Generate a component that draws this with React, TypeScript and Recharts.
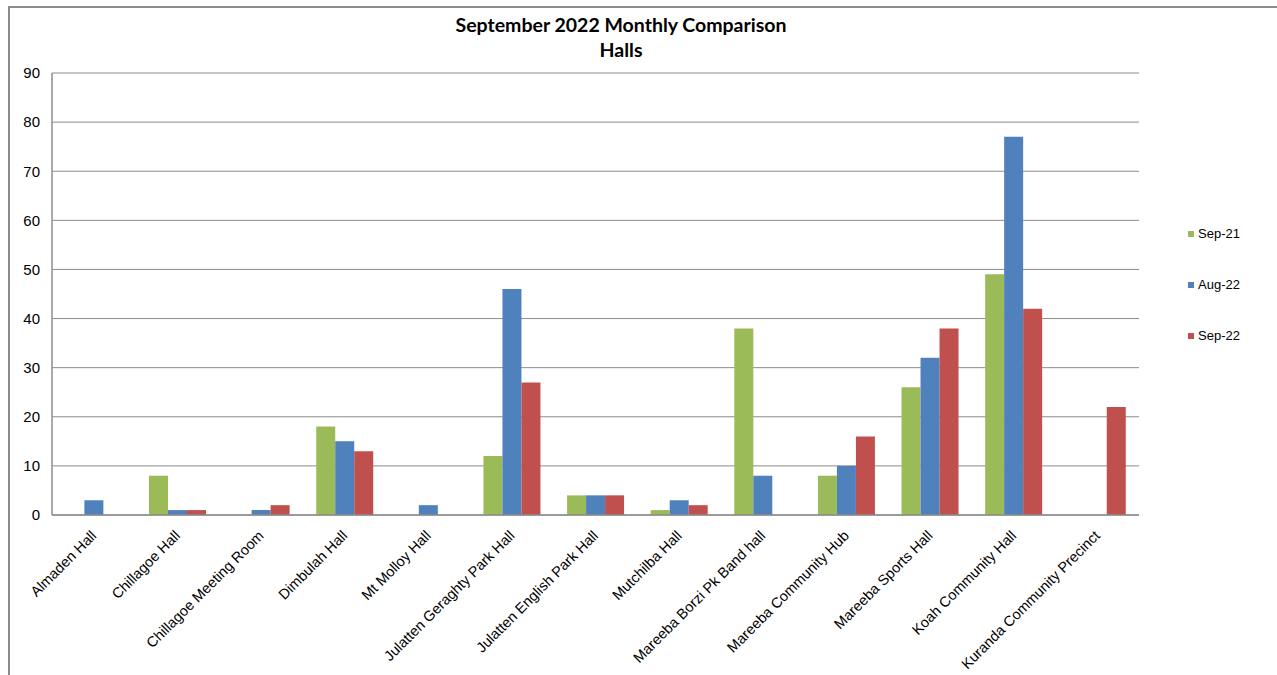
import React from "react";
import { BarChart, Bar, XAxis, YAxis, CartesianGrid } from "recharts";

const halls = [
  "Almaden Hall",
  "Chillagoe Hall",
  "Chillagoe Meeting Room",
  "Dimbulah Hall",
  "Mt Molloy Hall",
  "Julatten Geraghty Park Hall",
  "Julatten English Park Hall",
  "Mutchilba Hall",
  "Mareeba Borzi Pk Band hall",
  "Mareeba Community Hub",
  "Mareeba Sports Hall",
  "Koah Community Hall",
  "Kuranda Community Precinct",
];

const sep21 = [0, 8, 0, 18, 0, 12, 4, 1, 38, 8, 26, 49, 0];
const aug22 = [3, 1, 1, 15, 2, 46, 4, 3, 8, 10, 32, 77, 0];
const sep22 = [0, 1, 2, 13, 0, 27, 4, 2, 0, 16, 38, 42, 22];

const yTicks = [0, 10, 20, 30, 40, 50, 60, 70, 80, 90];

const series = [
  { key: "sep21", name: "Sep-21", color: "#9BBB59" },
  { key: "aug22", name: "Aug-22", color: "#4F81BD" },
  { key: "sep22", name: "Sep-22", color: "#C0504D" },
];

const data = halls.map((name, i) => ({
  name,
  sep21: sep21[i],
  aug22: aug22[i],
  sep22: sep22[i],
}));

const FONT = "'Liberation Sans', Arial, sans-serif";

function HallTick(props: any) {
  const { x, y, payload } = props;
  return (
    <g transform={`translate(${x}, ${y + 10}) rotate(-45)`}>
      <text
        x={0}
        y={0}
        dy="0.35em"
        textAnchor="end"
        fontSize={14.5}
        fontFamily={FONT}
        fill="#000"
      >
        {payload.value}
      </text>
    </g>
  );
}

export default function App() {
  return (
    <div
      style={{
        position: "absolute",
        left: 8,
        top: 6,
        width: 1269,
        height: 669,
        borderTop: "2px solid #8c8c8c",
        borderLeft: "2px solid #8c8c8c",
        boxSizing: "border-box",
        background: "#fff",
        overflow: "hidden",
      }}
    >
      <div
        style={{
          position: "absolute",
          left: 0,
          width: 1222,
          top: 4,
          textAlign: "center",
          fontFamily: "Lato, 'Open Sans', sans-serif",
          fontWeight: 700,
          fontSize: 19.5,
          lineHeight: "25px",
          color: "#000",
        }}
      >
        September 2022 Monthly Comparison
        <br />
        Halls
      </div>
      <div style={{ position: "absolute", left: -2, top: 0 }}>
        <BarChart
          width={1269}
          height={685}
          data={data}
          margin={{ top: 65, right: 138, left: 0, bottom: 0 }}
          barCategoryGap="16%"
          barGap={0}
        >
          <CartesianGrid vertical={false} stroke="#8c8c8c" strokeWidth={1} />
          <XAxis
            dataKey="name"
            interval={0}
            height={178}
            tick={<HallTick />}
            tickLine={false}
            axisLine={{ stroke: "#8c8c8c", strokeWidth: 1.5 }}
          />
          <YAxis
            domain={[0, 90]}
            ticks={yTicks}
            width={44}
            tickLine={false}
            tickSize={0}
            tickMargin={12}
            axisLine={{ stroke: "#8c8c8c", strokeWidth: 1.5 }}
            tick={{ fontSize: 15, fontFamily: FONT, fill: "#000" }}
          />
          {series.map((s) => (
            <Bar
              key={s.key}
              dataKey={s.key}
              name={s.name}
              fill={s.color}
              isAnimationActive={false}
            />
          ))}
        </BarChart>
      </div>
      <div style={{ position: "absolute", left: 1178, top: 200 }}>
        {series.map((s) => (
          <div
            key={s.key}
            style={{
              display: "flex",
              alignItems: "center",
              height: 51,
              fontFamily: FONT,
              fontSize: 13,
              color: "#000",
            }}
          >
            <span
              style={{
                display: "inline-block",
                width: 6,
                height: 6,
                background: s.color,
                marginRight: 4,
              }}
            />
            {s.name}
          </div>
        ))}
      </div>
    </div>
  );
}
